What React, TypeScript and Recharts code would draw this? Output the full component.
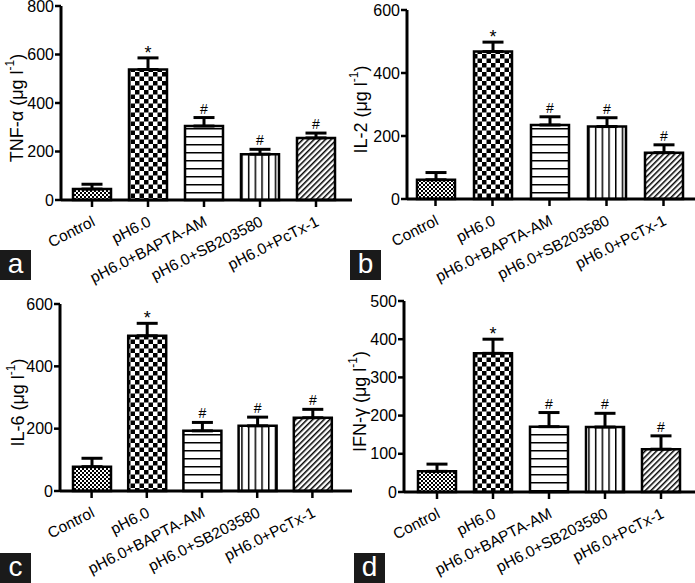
import React from 'react';
import { BarChart, Bar, XAxis, YAxis, Cell, ErrorBar, Label } from 'recharts';

const categories = ['Control', 'pH6.0', 'pH6.0+BAPTA-AM', 'pH6.0+SB203580', 'pH6.0+PcTx-1'];
const marks = ['', '*', '#', '#', '#'];

const tnfMeans = [45, 538, 305, 189, 256];
const tnfErrors = [20, 48, 35, 20, 20];
const il2Means = [61, 468, 235, 230, 147];
const il2Errors = [23, 30, 26, 28, 25];
const il6Means = [78, 498, 193, 209, 235];
const il6Errors = [27, 40, 27, 28, 27];
const ifnMeans = [54, 363, 171, 170, 112];
const ifnErrors = [19, 37, 37, 36, 35];

const ticks800 = [0, 200, 400, 600, 800];
const ticks600 = [0, 200, 400, 600];
const ticks500 = [0, 100, 200, 300, 400, 500];

const fills = ['ctrl', 'chk', 'hz', 'vt', 'dg'];
const font = '"Liberation Sans", Arial, sans-serif';

function Patterns({ id }: { id: string }) {
  return (
    <defs>
      <pattern id={`${id}-ctrl`} width={4} height={4} patternUnits='userSpaceOnUse'>
        <rect width={4} height={4} fill='#fff' />
        <rect width={2} height={2} fill='#000' />
        <rect x={2} y={2} width={2} height={2} fill='#000' />
      </pattern>
      <pattern id={`${id}-chk`} width={9} height={9} patternUnits='userSpaceOnUse'>
        <rect width={9} height={9} fill='#fff' />
        <rect width={4.5} height={4.5} fill='#000' />
        <rect x={4.5} y={4.5} width={4.5} height={4.5} fill='#000' />
      </pattern>
      <pattern id={`${id}-hz`} width={8} height={8} patternUnits='userSpaceOnUse'>
        <rect width={8} height={8} fill='#fff' />
        <rect width={8} height={1.5} fill='#000' />
      </pattern>
      <pattern id={`${id}-vt`} width={6.7} height={6.7} patternUnits='userSpaceOnUse'>
        <rect width={6.7} height={6.7} fill='#fff' />
        <rect width={1.5} height={6.7} fill='#000' />
      </pattern>
      <pattern id={`${id}-dg`} width={4} height={4} patternUnits='userSpaceOnUse' patternTransform='rotate(45)'>
        <rect width={4} height={4} fill='#fff' />
        <rect width={1.5} height={4} fill='#000' />
      </pattern>
    </defs>
  );
}

// category label, end-anchored just right of the tick and tilted up
function XTick(props: any) {
  const { x, y, payload } = props;
  return (
    <g transform={`translate(${x + 4},${y + 16}) rotate(-27)`}>
      <text x={0} y={0} textAnchor='end' fontSize={15.5} fontFamily={font} fill='#000'>
        {payload.value}
      </text>
    </g>
  );
}

function YLabel(props: any) {
  const { viewBox, name, labelX } = props;
  const vb = viewBox || { x: 0, y: 0, width: 0, height: 0 };
  const cx = labelX;
  const cy = vb.y + vb.height / 2 + 5;
  return (
    <g transform={`translate(${cx},${cy}) rotate(-90)`}>
      <text x={0} y={0} textAnchor='middle' dominantBaseline='central' fontSize={18} fontFamily={font} fill='#000'>
        <tspan>{`${name} (μg l`}</tspan>
        <tspan dy={-7} fontSize={12}>-1</tspan>
        <tspan dy={7}>)</tspan>
      </text>
    </g>
  );
}

function renderMark(props: any, means: number[], errors: number[]) {
  const { x, y, width, height, value, index } = props;
  const i = typeof index === 'number' ? index : means.indexOf(value);
  const m = marks[i];
  if (!m || !value) return null;
  const top = y - errors[i] * (height / value);
  const cx = x + width / 2;
  return (
    <text key={`mark-${i}`} x={cx} y={m === '*' ? top + 1 : top - 4} textAnchor='middle' fontSize={m === '*' ? 18 : 14} fontFamily={font} fill='#000'>
      {m}
    </text>
  );
}

type PanelProps = {
  id: string;
  left: number;
  top: number;
  width: number;
  height: number;
  yWidth: number;
  marginTop: number;
  xHeight: number;
  padLeft: number;
  padRight: number;
  domain: [number, number];
  ticks: number[];
  means: number[];
  errors: number[];
  name: string;
  labelX: number;
};

function Panel(p: PanelProps) {
  const data = categories.map((c, i) => ({ name: c, value: p.means[i], err: [0, p.errors[i]] }));
  return (
    <div style={{ position: 'absolute', left: p.left, top: p.top }}>
      <BarChart width={p.width} height={p.height} data={data} margin={{ top: p.marginTop, right: 0, left: 0, bottom: 0 }} barSize={38}>
        <Patterns id={p.id} />
        <XAxis
          dataKey='name'
          interval={0}
          height={p.xHeight}
          padding={{ left: p.padLeft, right: p.padRight }}
          axisLine={{ stroke: '#000', strokeWidth: 3 }}
          tickLine={{ stroke: '#000', strokeWidth: 2.5 }}
          tickSize={7}
          tickMargin={2}
          tick={(t: any) => <XTick {...t} />}
        />
        <YAxis
          width={p.yWidth}
          domain={p.domain}
          ticks={p.ticks}
          interval={0}
          axisLine={{ stroke: '#000', strokeWidth: 3 }}
          tickLine={{ stroke: '#000', strokeWidth: 2.5 }}
          tickSize={6}
          tickMargin={1}
          tick={{ fill: '#000', fontSize: 16, fontFamily: font }}
        >
          <Label content={(lp: any) => <YLabel {...lp} name={p.name} labelX={p.labelX} />} />
        </YAxis>
        <Bar
          dataKey='value'
          stroke='#000'
          strokeWidth={2.5}
          isAnimationActive={false}
          label={(lp: any) => renderMark(lp, p.means, p.errors)}
        >
          {data.map((_, i) => (
            <Cell key={`cell-${i}`} fill={`url(#${p.id}-${fills[i]})`} />
          ))}
          <ErrorBar dataKey='err' direction='y' width={10.5} stroke='#000' strokeWidth={3} isAnimationActive={false} />
        </Bar>
      </BarChart>
    </div>
  );
}

function Tag({ letter, left, top }: { letter: string; left: number; top: number }) {
  return (
    <div
      style={{
        position: 'absolute',
        left,
        top,
        width: 31,
        height: 30,
        background: '#1a1a1a',
        color: '#fff',
        fontFamily: font,
        fontSize: 28,
        lineHeight: '28px',
        textAlign: 'center',
      }}
    >
      {letter}
    </div>
  );
}

export default function App() {
  return (
    <div style={{ position: 'absolute', left: 0, top: 0, width: 695, height: 583, background: '#fff', overflow: 'hidden' }}>
      <Panel id='a' left={0} top={0} width={352} height={290} yWidth={61} marginTop={6} xHeight={90} padLeft={3} padRight={8}
        domain={[0, 800]} ticks={ticks800} means={tnfMeans} errors={tnfErrors} name='TNF-α' labelX={17} />
      <Panel id='b' left={347} top={0} width={348} height={290} yWidth={60} marginTop={10} xHeight={91} padLeft={0} padRight={3}
        domain={[0, 600]} ticks={ticks600} means={il2Means} errors={il2Errors} name='IL-2' labelX={14} />
      <Panel id='c' left={0} top={290} width={352} height={293} yWidth={60} marginTop={14} xHeight={92} padLeft={4} padRight={12}
        domain={[0, 600]} ticks={ticks600} means={il6Means} errors={il6Errors} name='IL-6' labelX={18} />
      <Panel id='d' left={347} top={290} width={348} height={293} yWidth={57} marginTop={11} xHeight={91} padLeft={5} padRight={6}
        domain={[0, 500]} ticks={ticks500} means={ifnMeans} errors={ifnErrors} name='IFN-γ' labelX={13} />
      <Tag letter='a' left={0} top={250} />
      <Tag letter='b' left={350} top={250} />
      <Tag letter='c' left={0} top={553} />
      <Tag letter='d' left={354} top={553} />
    </div>
  );
}
